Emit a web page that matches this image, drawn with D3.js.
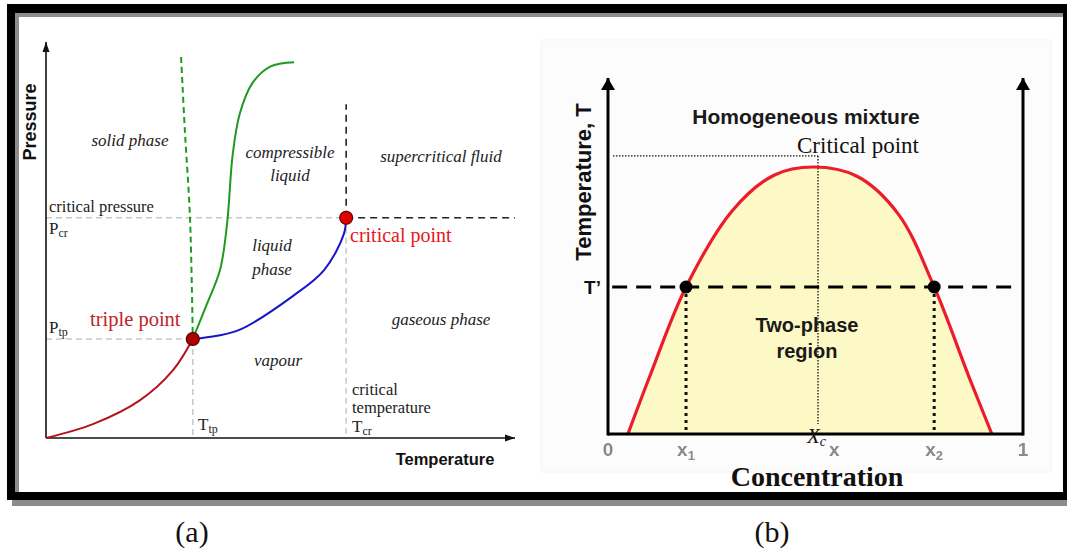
<!DOCTYPE html>
<html>
<head>
<meta charset="utf-8">
<script src="https://cdn.jsdelivr.net/npm/d3@7"></script>
<style>
  html, body { margin: 0; padding: 0; background: #fff; }
  svg { display: block; }
  .sans { font-family: "Liberation Sans", Arial, sans-serif; }
  .serif { font-family: "Liberation Serif", "Times New Roman", serif; }
</style>
</head>
<body>
<svg id="chart" width="1067" height="554"></svg>
<script>
// ---------- Panel (a): P–T phase diagram (relative units, 0–100 on both axes) ----------
const sublimationCurve = [[0, 0], [10, 3.5], [20, 9.5], [27, 17], [31.3, 25]];
const vaporizationCurve = [[31.3, 25], [36.5, 25.8], [41.6, 27.5], [52.7, 35.9], [59.3, 42.4], [63.5, 51.5], [64, 55.6]];
const meltingCurve = [[31.3, 25], [34.3, 33.8], [37.1, 42.4], [38.6, 54], [39.8, 71.5], [41.3, 81.8], [44, 89.6], [47.8, 93.8], [52.9, 94.9]];
const meltingAnomalous = [[28.8, 96.2], [29.6, 77.8], [30.7, 55.6], [31.3, 25]];
const triplePoint = [31.3, 25];
const criticalPoint = [64, 55.6];
const supercriticalTop = 84.3;

// ---------- Panel (b): T–x miscibility gap (concentration 0–1, temperature 0–1) ----------
const binodal = [[0.048, 0], [0.10, 0.16], [0.188, 0.413], [0.30, 0.628], [0.40, 0.727], [0.495, 0.75], [0.60, 0.724], [0.70, 0.617], [0.786, 0.413], [0.87, 0.16], [0.925, 0]];
const tieTemperature = 0.413;
const phaseCompositions = [0.188, 0.786];
const criticalComposition = 0.506;
const criticalMarkT = 0.781;
const concTickValues = [0, 0.188, 0.545, 0.786, 1];
const concTickNames = ["0", "x", "x", "x", "1"];
const concTickSubs = ["", "1", "", "2", ""];

const svg = d3.select("#chart");

// ---------- outer frame ----------
svg.append("rect").attr("x", 12).attr("y", 500).attr("width", 1060).attr("height", 6).attr("fill", "#8c8c8c");
svg.append("rect").attr("x", 7).attr("y", 4).attr("width", 1070).attr("height", 496).attr("fill", "#000");
svg.append("rect").attr("x", 15).attr("y", 13).attr("width", 1048).attr("height", 479).attr("fill", "#8c8c8c");
svg.append("rect").attr("x", 19).attr("y", 17).attr("width", 1044).attr("height", 475).attr("fill", "#fff");

// arrow markers
const defs = svg.append("defs");
defs.append("marker").attr("id", "arrowThin")
  .attr("viewBox", "0 0 10 10").attr("refX", 10).attr("refY", 5)
  .attr("markerWidth", 10).attr("markerHeight", 10).attr("markerUnits", "userSpaceOnUse")
  .attr("orient", "auto")
  .append("path").attr("d", "M0,1.5 L10,5 L0,8.5 Z").attr("fill", "#111");
defs.append("marker").attr("id", "arrowThick")
  .attr("viewBox", "0 0 12 14").attr("refX", 12).attr("refY", 7)
  .attr("markerWidth", 14).attr("markerHeight", 14).attr("markerUnits", "userSpaceOnUse")
  .attr("orient", "auto")
  .append("path").attr("d", "M0,0 L12,7 L0,14 Z").attr("fill", "#000");
defs.append("filter").attr("id", "soft").append("feGaussianBlur").attr("stdDeviation", 0.45);

// =====================================================================
// Panel (a)
// =====================================================================
const ax = d3.scaleLinear().domain([0, 100]).range([46, 515]);
const ay = d3.scaleLinear().domain([0, 100]).range([438, 42]);
const gA = svg.append("g");

// reference lines
const grayDash = { stroke: "#c8c8c8", width: 1.5, dash: "6,4" };
function seg(g, x1, y1, x2, y2, st) {
  g.append("line").attr("x1", x1).attr("y1", y1).attr("x2", x2).attr("y2", y2)
    .attr("stroke", st.stroke).attr("stroke-width", st.width).attr("stroke-dasharray", st.dash || null);
}
seg(gA, ax(0), ay(criticalPoint[1]), ax(criticalPoint[0]), ay(criticalPoint[1]), grayDash);
seg(gA, ax(0), ay(triplePoint[1]), ax(triplePoint[0]), ay(triplePoint[1]), grayDash);
seg(gA, ax(triplePoint[0]), ay(triplePoint[1]), ax(triplePoint[0]), ay(0), grayDash);
seg(gA, ax(criticalPoint[0]), ay(criticalPoint[1]), ax(criticalPoint[0]), ay(0), grayDash);
const blackDash = { stroke: "#222", width: 1.6, dash: "7,5" };
seg(gA, ax(criticalPoint[0]), ay(criticalPoint[1]), ax(criticalPoint[0]), ay(supercriticalTop), blackDash);
seg(gA, ax(criticalPoint[0]), ay(criticalPoint[1]), ax(100), ay(criticalPoint[1]), blackDash);

// axes
gA.append("line").attr("x1", ax(0)).attr("y1", ay(0)).attr("x2", ax(0)).attr("y2", ay(100))
  .attr("stroke", "#111").attr("stroke-width", 1.6).attr("marker-end", "url(#arrowThin)");
gA.append("line").attr("x1", ax(0)).attr("y1", ay(0)).attr("x2", ax(100)).attr("y2", ay(0))
  .attr("stroke", "#111").attr("stroke-width", 1.6).attr("marker-end", "url(#arrowThin)");

// phase boundaries
const lineA = d3.line().x(d => ax(d[0])).y(d => ay(d[1])).curve(d3.curveCatmullRom.alpha(0.5));
gA.append("path").attr("d", lineA(sublimationCurve)).attr("fill", "none").attr("stroke", "#b5121b").attr("stroke-width", 2);
gA.append("path").attr("d", lineA(vaporizationCurve)).attr("fill", "none").attr("stroke", "#1616c8").attr("stroke-width", 2);
gA.append("path").attr("d", lineA(meltingCurve)).attr("fill", "none").attr("stroke", "#1f9a1f").attr("stroke-width", 2);
gA.append("path").attr("d", lineA(meltingAnomalous)).attr("fill", "none").attr("stroke", "#1f9a1f").attr("stroke-width", 2).attr("stroke-dasharray", "6,4");

// special points
gA.append("circle").attr("cx", ax(triplePoint[0])).attr("cy", ay(triplePoint[1])).attr("r", 6.5)
  .attr("fill", "#b10000").attr("stroke", "#4a0000").attr("stroke-width", 1.2);
gA.append("circle").attr("cx", ax(criticalPoint[0])).attr("cy", ay(criticalPoint[1])).attr("r", 6.5)
  .attr("fill", "#e00000").attr("stroke", "#6a0000").attr("stroke-width", 1.2);

// text
function txt(g, x, y, s, size, opts = {}) {
  const t = g.append("text").attr("x", x).attr("y", y).text(s)
    .attr("class", opts.cls || "serif").attr("font-size", size)
    .attr("fill", opts.fill || "#222");
  if (opts.italic) t.attr("font-style", "italic");
  if (opts.bold) t.attr("font-weight", "bold");
  if (opts.anchor) t.attr("text-anchor", opts.anchor);
  return t;
}
function subTxt(g, x, y, main, sub, size, subSize, opts = {}) {
  const t = g.append("text").attr("x", x).attr("y", y)
    .attr("class", opts.cls || "serif").attr("font-size", size).attr("fill", opts.fill || "#222");
  if (opts.italic) t.attr("font-style", "italic");
  if (opts.bold) t.attr("font-weight", "bold");
  if (opts.anchor) t.attr("text-anchor", opts.anchor);
  t.append("tspan").text(main);
  t.append("tspan").attr("font-size", subSize).attr("dy", opts.subDy || 3).text(sub);
  return t;
}

txt(gA, 130, 146, "solid phase", 17, { italic: true, anchor: "middle" });
txt(gA, 290, 158, "compressible", 17, { italic: true, anchor: "middle" });
txt(gA, 290, 181, "liquid", 17, { italic: true, anchor: "middle" });
txt(gA, 441, 162, "supercritical fluid", 17, { italic: true, anchor: "middle" });
txt(gA, 272, 251, "liquid", 17, { italic: true, anchor: "middle" });
txt(gA, 272, 275, "phase", 17, { italic: true, anchor: "middle" });
txt(gA, 441, 325, "gaseous phase", 17, { italic: true, anchor: "middle" });
txt(gA, 278, 366, "vapour", 17, { italic: true, anchor: "middle" });

txt(gA, 49, 212, "critical pressure", 16.5);
subTxt(gA, 49, 234, "P", "cr", 17, 12);
subTxt(gA, 49, 333, "P", "tp", 17, 12);
subTxt(gA, 198, 430, "T", "tp", 17, 12);
txt(gA, 352, 395, "critical", 16.5);
txt(gA, 352, 413, "temperature", 16.5);
subTxt(gA, 352, 432, "T", "cr", 17, 12);

txt(gA, 350, 242, "critical point", 20, { fill: "#e5181b" });
txt(gA, 90, 326, "triple point", 20.5, { fill: "#c0232a" });

txt(gA, 445, 465, "Temperature", 16.5, { cls: "sans", bold: true, fill: "#111", anchor: "middle" });
txt(gA, 0, 0, "Pressure", 18, { cls: "sans", bold: true, fill: "#111", anchor: "middle" })
  .attr("transform", "translate(36,122) rotate(-90)");

// =====================================================================
// Panel (b)
// =====================================================================
const bx = d3.scaleLinear().domain([0, 1]).range([608, 1023]);
const by = d3.scaleLinear().domain([0, 1]).range([434, 78]);
const gB = svg.append("g");

// faint panel backdrop
gB.append("rect").attr("x", 541).attr("y", 40).attr("width", 510).attr("height", 432)
  .attr("fill", "#fcfcfc").attr("stroke", "#f5f5f5").attr("stroke-width", 1);

// two-phase region
const areaB = d3.area().x(d => bx(d[0])).y0(by(0)).y1(d => by(d[1])).curve(d3.curveCatmullRom.alpha(0.5));
gB.append("path").attr("d", areaB(binodal)).attr("fill", "#fdf9c6");

// critical point guides (fine dotted)
gB.append("line").attr("x1", bx(0.012)).attr("y1", by(criticalMarkT)).attr("x2", bx(criticalComposition)).attr("y2", by(criticalMarkT))
  .attr("stroke", "#111").attr("stroke-width", 1.3).attr("stroke-dasharray", "1.5,1.5");
gB.append("line").attr("x1", bx(criticalComposition)).attr("y1", by(criticalMarkT)).attr("x2", bx(criticalComposition)).attr("y2", by(0.028))
  .attr("stroke", "#111").attr("stroke-width", 1.3).attr("stroke-dasharray", "1.5,1.5");

// phase composition drop lines (heavy dotted)
phaseCompositions.forEach(c => {
  gB.append("line").attr("x1", bx(c)).attr("y1", by(tieTemperature)).attr("x2", bx(c)).attr("y2", by(0))
    .attr("stroke", "#111").attr("stroke-width", 3).attr("stroke-dasharray", "3,4");
});

// binodal curve
const lineB = d3.line().x(d => bx(d[0])).y(d => by(d[1])).curve(d3.curveCatmullRom.alpha(0.5));
gB.append("path").attr("d", lineB(binodal)).attr("fill", "none").attr("stroke", "#ec1c2c").attr("stroke-width", 3.2);

// tie line at T'
gB.append("line").attr("x1", bx(0.01)).attr("y1", by(tieTemperature)).attr("x2", bx(0.99)).attr("y2", by(tieTemperature))
  .attr("stroke", "#000").attr("stroke-width", 3).attr("stroke-dasharray", "15,9");

// axes
gB.append("line").attr("x1", bx(0)).attr("y1", by(0)).attr("x2", bx(1)).attr("y2", by(0))
  .attr("stroke", "#000").attr("stroke-width", 3);
[0, 1].forEach(c => {
  gB.append("line").attr("x1", bx(c)).attr("y1", by(0) + 1.5).attr("x2", bx(c)).attr("y2", by(1))
    .attr("stroke", "#000").attr("stroke-width", 3).attr("marker-end", "url(#arrowThick)");
});

// coexisting phases
phaseCompositions.forEach(c => {
  gB.append("circle").attr("cx", bx(c)).attr("cy", by(tieTemperature)).attr("r", 6.5).attr("fill", "#000");
});

// labels
txt(gB, 806, 124, "Homogeneous mixture", 21, { cls: "sans", bold: true, fill: "#1a1a1a", anchor: "middle" });
txt(gB, 797, 153, "Critical point", 23, { fill: "#111" });
txt(gB, 807, 332, "Two-phase", 20, { cls: "sans", bold: true, fill: "#1a1a1a", anchor: "middle" });
txt(gB, 807, 358, "region", 20, { cls: "sans", bold: true, fill: "#1a1a1a", anchor: "middle" });
txt(gB, 601, by(tieTemperature) + 7, "T’", 19, { cls: "sans", bold: true, fill: "#111", anchor: "end" });
txt(gB, 0, 0, "Temperature, T", 22, { cls: "sans", bold: true, fill: "#111", anchor: "middle" })
  .attr("transform", "translate(591,182) rotate(-90)");

// concentration tick labels (soft grey)
concTickValues.forEach((v, i) => {
  subTxt(gB, bx(v), 456, concTickNames[i], concTickSubs[i], 19, 13,
    { cls: "sans", bold: true, fill: "#8a8a8a", anchor: "middle", subDy: 4 })
    .attr("filter", "url(#soft)");
});
subTxt(gB, bx(criticalComposition) - 11, 443, "X", "c", 21, 14, { italic: true, fill: "#111", subDy: 3 });
txt(gB, 817, 486, "Concentration", 28, { bold: true, fill: "#111", anchor: "middle" });

// panel captions
txt(svg, 192, 542, "(a)", 30, { fill: "#111", anchor: "middle" });
txt(svg, 772, 542, "(b)", 30, { fill: "#111", anchor: "middle" });
</script>
</body>
</html>
